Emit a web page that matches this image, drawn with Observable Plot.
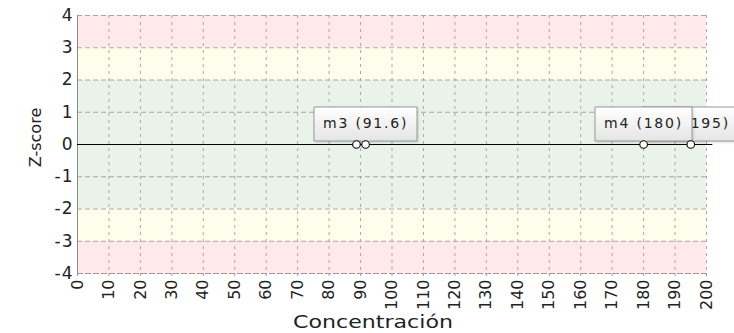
<!DOCTYPE html>
<html>
<head>
<meta charset="utf-8">
<script src="https://cdn.jsdelivr.net/npm/d3@7"></script>
<script src="https://cdn.jsdelivr.net/npm/@observablehq/plot@0.6"></script>
<style>
  body { margin: 0; background: #fff; }
  #chart svg { display: block; }
  #chart svg text { letter-spacing: 1.8px; }
  #chart svg g[aria-label="x-axis tick label"] text { letter-spacing: 0px; }
  #chart svg g[aria-label="y-axis tick label"] text { letter-spacing: 1px; }
</style>
</head>
<body>
<div id="chart"></div>
<script>
// Data
const pointLabels = ["m2", "m3", "m4", "m5"];
const pointX = [88.7, 91.6, 180, 195];
const pointZ = [0, 0, 0, 0];
// tips drawn in this order (later on top)
const tipLabels = ["m3", "m5", "m4"];
const tipX = [91.6, 195, 180];
const tipZ = [0, 0, 0];

const bandLow = [-4, -3, -2, 2, 3];
const bandHigh = [-3, -2, 2, 3, 4];
const bandColor = ["#ffe9e9", "#fffeec", "#e9f3e9", "#fffeec", "#ffe9e9"];

const xTicks = d3.range(0, 201, 10);
const yTicks = [-4, -3, -2, -1, 0, 1, 2, 3, 4];
const xTitle = "Concentración";
const yTitle = "Z-score";

const points = pointLabels.map((l, i) => ({label: l, x: pointX[i], z: pointZ[i]}));
const tips = tipLabels.map((l, i) => ({label: `${l} (${tipX[i]})`, x: tipX[i], z: tipZ[i]}));
const bands = bandLow.map((lo, i) => ({lo, hi: bandHigh[i], color: bandColor[i]}));

const defs = () => {
  const ns = "http://www.w3.org/2000/svg";
  const d = document.createElementNS(ns, "defs");
  d.innerHTML = `<linearGradient id="tipgrad" x1="0" y1="0" x2="0" y2="1">
    <stop offset="0" stop-color="#ffffff"/><stop offset="1" stop-color="#e2e2e2"/></linearGradient>`;
  return d;
};

const chart = Plot.plot({
  width: 734,
  height: 333,
  marginTop: 15,
  marginRight: 28,
  marginBottom: 60,
  marginLeft: 77,
  style: {fontFamily: "DejaVu Sans", color: "#222", background: "#fff"},
  x: {domain: [0, 200]},
  y: {domain: [-4, 4]},
  marks: [
    defs,
    Plot.rectY(bands, {x1: 0, x2: 200, y1: "lo", y2: "hi", fill: "color"}),
    Plot.gridX(xTicks, {stroke: "#a8a8a8", strokeOpacity: 1, strokeDasharray: "3,4"}),
    Plot.gridY(yTicks, {stroke: "#a8a8a8", strokeOpacity: 1, strokeDasharray: "5,3"}),
    Plot.ruleY([-4], {x1: 0, x2: 200, stroke: "#a08888", strokeDasharray: "2,2"}),
    Plot.ruleX([0], {y1: -4, y2: 4, stroke: "#8a8a8a"}),
    Plot.ruleY([0], {x1: 0, x2: 202, stroke: "#000", strokeWidth: 1.2, clip: false}),
    Plot.axisY(yTicks, {tickSize: 0, tickPadding: 4, fontSize: 17, label: null, tickFormat: d => `${d}`}),
    Plot.axisX(xTicks, {tickSize: 3, tickPadding: 3, tickRotate: -90, fontSize: 16, label: null, stroke: "#999", tickFormat: d => `${d}`}),
    Plot.tip(tips, {
      x: "x", y: "z", title: "label", anchor: "bottom",
      pointerSize: 7, textPadding: 9, fontSize: 14, lineHeight: 1.1,
      fill: "url(#tipgrad)", stroke: "#999",
      pathFilter: "drop-shadow(1px 1px 1px rgba(0,0,0,0.15))"
    }),
    Plot.dot(points, {x: "x", y: "z", r: 3.8, fill: "#fff", stroke: "#000", strokeWidth: 1.1}),
    Plot.text([xTitle], {frameAnchor: "bottom", text: d => d, fontSize: 18, dx: -19, dy: 49, lineAnchor: "middle", textAnchor: "middle", fill: "#222"}),
    Plot.text([yTitle], {frameAnchor: "left", text: d => d, fontSize: 16, rotate: -90, dx: -42, dy: -7, lineAnchor: "middle", textAnchor: "middle", fill: "#222"})
  ]
});
document.getElementById("chart").appendChild(chart);

// stretch the horizontal title like the reference, and keep the rotated title plain
d3.select(chart).selectAll("text").each(function () {
  if (this.textContent === xTitle) {
    this.setAttribute("textLength", 160);
    this.setAttribute("lengthAdjust", "spacingAndGlyphs");
    this.style.letterSpacing = "0px";
  } else if (this.textContent === yTitle) {
    this.style.letterSpacing = "0px";
  }
});
</script>
</body>
</html>
